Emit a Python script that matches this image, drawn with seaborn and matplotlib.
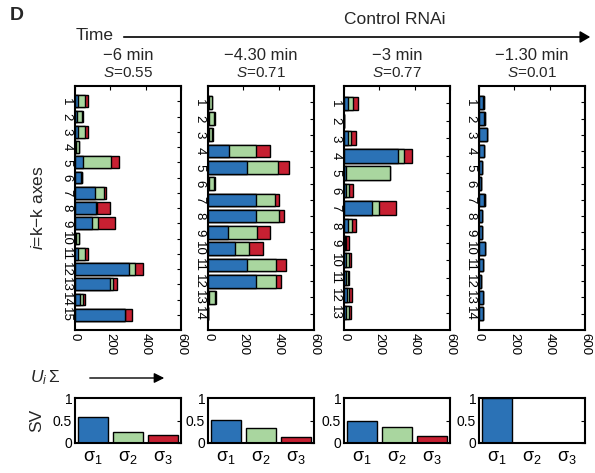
import numpy as np
import pandas as pd
import matplotlib
matplotlib.use("Agg")
import matplotlib.pyplot as plt
import seaborn as sns

# ---- data ----
times = ["\u22126 min", "\u22124.30 min", "\u22123 min", "\u22121.30 min"]
s_values = ["0.55", "0.71", "0.77", "0.01"]

# U_i * Sigma components per axis (blue = sigma1, green = sigma2, red = sigma3)
blue_1 = [19, 13, 19, 5, 44, 32, 114, 120, 99, 5, 19, 305, 200, 29, 282]
green_1 = [38, 25, 40, 15, 162, 6, 52, 4, 31, 15, 38, 34, 13, 19, 2]
red_1 = [15, 10, 13, 5, 44, 4, 11, 76, 97, 5, 15, 46, 27, 9, 36]

blue_2 = [3, 3, 3, 120, 223, 3, 270, 272, 114, 152, 223, 270, 3, 0]
green_2 = [17, 30, 20, 149, 171, 30, 107, 132, 162, 82, 160, 117, 35, 0]
red_2 = [3, 5, 4, 80, 63, 5, 23, 28, 76, 75, 59, 28, 10, 0]

blue_3 = [25, 0, 21, 304, 11, 11, 161, 21, 8, 12, 10, 15, 12]
green_3 = [24, 0, 21, 38, 247, 19, 38, 25, 5, 14, 10, 16, 14]
red_3 = [29, 0, 24, 41, 4, 21, 95, 22, 14, 12, 10, 15, 12]

blue_4 = [25, 31, 44, 27, 18, 9, 31, 18, 18, 33, 21, 9, 20, 21]
green_4 = [0.5] * 14
red_4 = [0.5] * 14

panels = [
    (blue_1, green_1, red_1),
    (blue_2, green_2, red_2),
    (blue_3, green_3, red_3),
    (blue_4, green_4, red_4),
]

sv_labels = ["s1", "s2", "s3"]
sv_tick_text = [r"$\mathrm{\sigma}_1$", r"$\mathrm{\sigma}_2$", r"$\mathrm{\sigma}_3$"]
sv_1 = [0.58, 0.24, 0.17]
sv_2 = [0.52, 0.33, 0.13]
sv_3 = [0.49, 0.35, 0.16]
sv_4 = [0.99, 0.01, 0.01]
sv_all = [sv_1, sv_2, sv_3, sv_4]

x_ticks = [0, 200, 400, 600]

BLUE = "#2b72b6"
GREEN = "#a9d69f"
RED = "#c72032"

sns.set_style("white")
plt.rcParams["font.family"] = ["Liberation Sans", "DejaVu Sans"]
plt.rcParams["mathtext.fontset"] = "custom"
plt.rcParams["mathtext.rm"] = "Liberation Sans"
plt.rcParams["mathtext.it"] = "Liberation Sans:italic"
plt.rcParams["axes.linewidth"] = 1.5

W, H = 595, 473
fig = plt.figure(figsize=(W / 100, H / 100), dpi=100)


def frac(x0, y0, x1, y1):
    # pixel box (top-left origin) -> figure fraction rect
    return [x0 / W, 1 - y1 / H, (x1 - x0) / W, (y1 - y0) / H]


lefts = [75, 208, 344, 479]
width_px = 106

for k, (b, g, r) in enumerate(panels):
    n = len(b)
    rows = np.arange(1, n + 1)
    b = np.array(b, float)
    g = np.array(g, float)
    r = np.array(r, float)
    df = pd.DataFrame({"row": rows, "blue": b, "bg": b + g, "total": b + g + r})

    ax = fig.add_axes(frac(lefts[k], 86, lefts[k] + width_px, 330))
    for col, c in [("total", RED), ("bg", GREEN), ("blue", BLUE)]:
        sns.barplot(data=df, x=col, y="row", orient="h", native_scale=True,
                    color=c, edgecolor="black", linewidth=1.0, width=0.78,
                    errorbar=None, saturation=1, ax=ax)
    ax.set_xlim(0, 600)
    ax.set_ylim(n + 1, 0)
    ax.set_xticks(x_ticks)
    ax.set_xticklabels([str(t) for t in x_ticks], rotation=-90, fontsize=9.5)
    ax.set_yticks(rows)
    ax.set_yticklabels([str(i) for i in rows], rotation=-90, fontsize=9.5,
                       va="center", ha="right")
    ax.set_xlabel("")
    ax.set_ylabel("")
    ax.tick_params(direction="in", top=True, right=True, length=3, width=0.8,
                   pad=2, colors="black")
    for sp in ax.spines.values():
        sp.set_color("black")
    ax.text(0.5, 1.125, times[k], transform=ax.transAxes, ha="center",
            va="center", fontsize=12)
    ax.text(0.5, 1.055, "$S$=" + s_values[k], transform=ax.transAxes,
            ha="center", va="center", fontsize=11)

    # singular values
    sax = fig.add_axes(frac(lefts[k], 398, lefts[k] + width_px, 443))
    sdf = pd.DataFrame({"sv": sv_labels, "val": sv_all[k]})
    sns.barplot(data=sdf, x="sv", y="val", hue="sv",
                palette=[BLUE, GREEN, RED], edgecolor="black", linewidth=1.0,
                width=0.85, saturation=1, legend=False, errorbar=None, ax=sax)
    sax.set_xlim(-0.5, 2.5)
    sax.set_ylim(0, 1)
    sax.set_yticks([0, 0.5, 1])
    sax.set_yticklabels(["0", "0.5", "1"], fontsize=10)
    sax.set_xticks([0, 1, 2])
    sax.set_xticklabels(sv_tick_text, fontsize=13)
    sax.set_xlabel("")
    sax.set_ylabel("")
    sax.tick_params(direction="in", top=True, right=True, length=3, width=0.8,
                    pad=2, colors="black")
    sax.tick_params(axis="x", length=0, pad=4)
    for sp in sax.spines.values():
        sp.set_color("black")

# annotations around the panels
fig.text(10 / W, 1 - 15 / H, "D", fontsize=14, fontweight="bold",
         ha="left", va="center")
fig.text(395 / W, 1 - 20 / H, "Control RNAi", fontsize=12.5,
         ha="center", va="center")
fig.text(76 / W, 1 - 36 / H, "Time", fontsize=12.5, ha="left", va="center")
fig.add_artist(matplotlib.patches.FancyArrowPatch(
    (121 / W, 1 - 37 / H), (593 / W, 1 - 37 / H), transform=fig.transFigure,
    arrowstyle="-|>,head_length=6,head_width=3.5", lw=1.2, color="black"))
fig.text(38 / W, 1 - 208 / H, "$i$=k\u2212k axes", fontsize=12.5,
         rotation=90, ha="center", va="center")
fig.text(30 / W, 1 - 378 / H, r"$U_i\,\Sigma$", fontsize=12.5,
         ha="left", va="center")
fig.add_artist(matplotlib.patches.FancyArrowPatch(
    (87 / W, 1 - 378 / H), (167 / W, 1 - 378 / H), transform=fig.transFigure,
    arrowstyle="-|>,head_length=6,head_width=3", lw=1.0, color="black"))
fig.text(37 / W, 1 - 420 / H, "SV", fontsize=12.5, rotation=90,
         ha="center", va="center")

fig.savefig("out.png", dpi=100)
